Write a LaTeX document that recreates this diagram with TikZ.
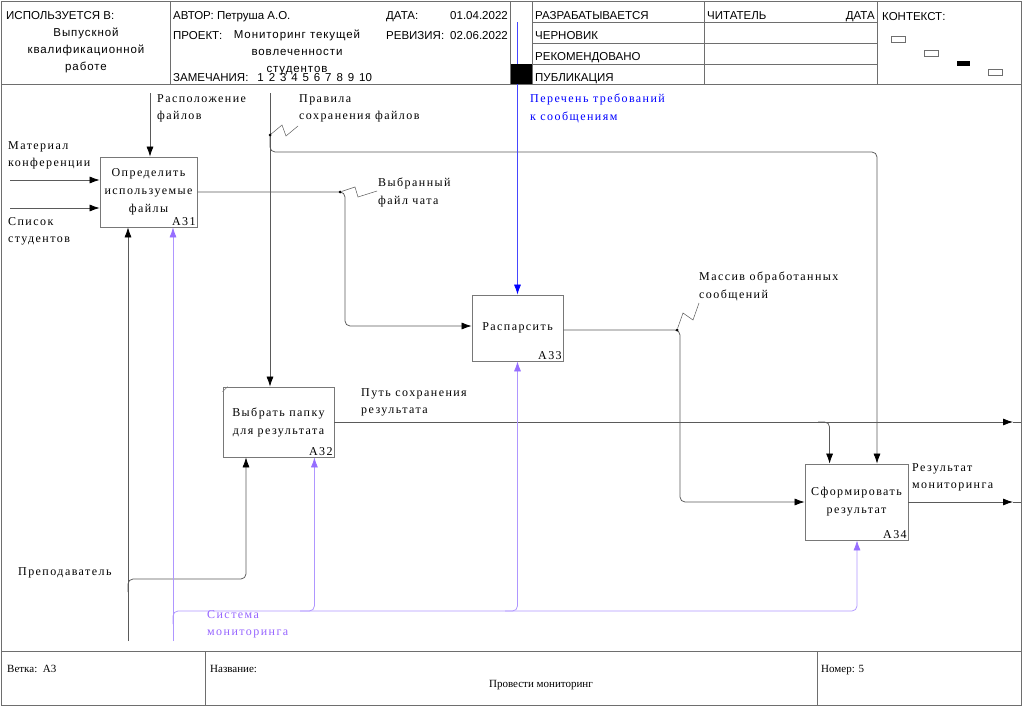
\documentclass[tikz,border=0pt]{standalone}
\usepackage{fontspec}
\setmainfont{Liberation Serif}
\newfontfamily\hdrfont{Liberation Sans}
\newfontfamily\hdrwide{Liberation Sans}[LetterSpace=8]
\newfontfamily\lblfont{Liberation Serif}[LetterSpace=12]
\usetikzlibrary{arrows.meta,calc}
\definecolor{framegray}{RGB}{110,110,110}
\definecolor{linegray}{RGB}{90,90,90}
\definecolor{boxgray}{RGB}{120,120,120}
\definecolor{purpline}{RGB}{175,150,255}
\definecolor{purptip}{RGB}{150,110,255}
\definecolor{purptext}{RGB}{150,100,255}
\definecolor{blueline}{RGB}{70,70,255}
\newcommand{\nsp}{\hspace{4.9pt}}
\begin{document}
\begin{tikzpicture}[x=1pt,y=-1pt,
  frame/.style={draw=framegray, line width=0.8pt},
  hdr/.style={font=\hdrfont\fontsize{11.5}{14}\selectfont, inner sep=0, anchor=base west},
  hdrc/.style={font=\hdrwide\fontsize{11.5}{16.8}\selectfont, inner sep=0, align=center, anchor=north},
  ftr/.style={font=\fontsize{11}{13}\selectfont, inner sep=0, anchor=base west},
  box/.style={draw=boxgray, line width=0.8pt, inner sep=0, align=center,
              font=\lblfont\fontsize{12}{18}\selectfont},
  num/.style={font=\lblfont\fontsize{12}{14}\selectfont, inner sep=1.5pt, anchor=south east},
  lbl/.style={font=\lblfont\fontsize{12}{17.5}\selectfont, inner sep=0, align=left, anchor=north west},
  arr/.style={draw=linegray, line width=0.75pt, -{Latex[length=10pt,width=7pt,color=black]}},
  line/.style={draw=linegray, line width=0.75pt},
  parr/.style={draw=purpline, line width=0.75pt, -{Latex[length=10pt,width=7pt,color=purptip]}},
  barr/.style={draw=blueline, line width=0.75pt, -{Latex[length=10pt,width=7pt,color=blue]}},
  squig/.style={draw=linegray, line width=0.5pt},
  dot/.style={circle, fill=black, inner sep=0, minimum size=3pt},
  rc/.style={rounded corners=5pt}]
\useasboundingbox (0,0) rectangle (1023,707);

% ---------- frame and header grid ----------
\draw[frame] (1,1) rectangle (1021,705);
\draw[frame] (1,84) -- (1021,84);
\foreach \x in {170,510,532,704,877} \draw[frame] (\x,1) -- (\x,84);
\foreach \y in {22,43,64} \draw[frame] (532,\y) -- (877,\y);
\draw[frame] (510,64) -- (532,64);

% ---------- header text ----------
\node[hdr] (usedin) at (6,19.5) {ИСПОЛЬЗУЕТСЯ В:};
\node[hdrc] (usedwhere) at (86,28) {Выпускной\\квалификационной\\работе};
\node[hdr] (author) at (173,19.5) {АВТОР: Петруша А.О.};
\node[hdr] (datel) at (386,19.5) {ДАТА:};
\node[hdr, anchor=base east] (datev) at (508,19.5) {01.04.2022};
\node[hdr] (proj) at (173,39.5) {ПРОЕКТ:};
\node[hdrc] (projname) at (297,30) {Мониторинг текущей\\вовлеченности\\студентов};
\node[hdr] (revl) at (386,39.5) {РЕВИЗИЯ:};
\node[hdr, anchor=base east] (revv) at (508,39.5) {02.06.2022};
\node[hdr] (notes) at (173,81.5) {ЗАМЕЧАНИЯ:\hspace{9pt}1\nsp 2\nsp 3\nsp 4\nsp 5\nsp 6\nsp 7\nsp 8\nsp 9\nsp 10};
\node[hdr] (st1) at (535,19.5) {РАЗРАБАТЫВАЕТСЯ};
\node[hdr] (st2) at (535,39.5) {ЧЕРНОВИК};
\node[hdr] (st3) at (535,60.5) {РЕКОМЕНДОВАНО};
\node[hdr] (st4) at (535,81.5) {ПУБЛИКАЦИЯ};
\node[hdr] (reader) at (707,19.5) {ЧИТАТЕЛЬ};
\node[hdr, anchor=base east] (rdate) at (875,19.5) {ДАТА};
\node[hdr] (ctx) at (882,20.5) {КОНТЕКСТ:};
\draw[framegray, line width=0.6pt] (891,36) rectangle (905,42);
\draw[framegray, line width=0.6pt] (924,50) rectangle (938,56);
\fill[black] (957,61) rectangle (970,66);
\draw[framegray, line width=0.6pt] (988,69) rectangle (1002,75);

% ---------- footer ----------
\draw[frame] (1,651) -- (1021,651);
\draw[frame] (205,651) -- (205,705);
\draw[frame] (817,651) -- (817,705);
\node[ftr] (branch) at (7,672) {Ветка:\ \ А3};
\node[ftr] (title) at (210,672) {Название:};
\node[ftr, anchor=base] (titletext) at (541,687) {Провести мониторинг};
\node[ftr] (number) at (821,672) {Номер: 5};

% ---------- activity boxes ----------
\node[box, minimum width=97pt, minimum height=70pt] (A31) at (148.5,192) {Определить\\используемые\\файлы};
\node[num] (n31) at (A31.south east) {А31};
\node[box, minimum width=111pt, minimum height=70pt] (A32) at (278.5,422) {Выбрать папку\\для результата};
\node[num] (n32) at (A32.south east) {А32};
\draw[boxgray, line width=0.5pt] ($(A32.north west)+(0,5)$) -- ($(A32.north west)+(5,0)$);
\node[box, minimum width=91pt, minimum height=66pt] (A33) at (517.5,328) {Распарсить};
\node[num] (n33) at (A33.south east) {А33};
\node[box, minimum width=103pt, minimum height=76pt] (A34) at (856.5,502) {Сформировать\\результат};
\node[num] (n34) at (A34.south east) {А34};

% ---------- inputs ----------
\coordinate (mat) at (10,180);
\draw[arr] (mat) -- (mat -| A31.west);
\node[lbl] (matl) at (8,141) {Материал\\конференции};
\coordinate (stud) at (10,208);
\draw[arr] (stud) -- (stud -| A31.west);
\node[lbl] (studl) at (8,217) {Список\\студентов};

% ---------- controls ----------
\coordinate (loc) at (150,93);
\draw[arr] (loc) -- (loc |- A31.north);
\node[lbl] (locl) at (157,94) {Расположение\\файлов};

\coordinate (rul) at (270,93);
\draw[arr] (rul) -- (rul |- A32.north);
\coordinate (rulj) at (270,135);
\coordinate (rulc) at (877,152);
\draw[arr, rc] (rulj) |- (rulc) -- (rulc |- A34.north);
\node[dot] (ruld) at (rulj) {};
\node[lbl] (rull) at (299,94) {Правила\\сохранения файлов};
\draw[squig] (ruld) -- ++(12,-10) -- ++(4,11) -- ++(12,-10);

\coordinate (req) at (517.5,22);
\draw[barr] (req) -- (A33.north);
\node[lbl, text=blue] (reql) at (530,94) {Перечень требований\\к сообщениям};
% status marker drawn over the control line
\fill[black] (511,64) rectangle (532,84);

% ---------- A31 -> A33 ----------
\coordinate (chat) at (345,192);
\coordinate (chatb) at (345,326);
\draw[arr, rc] (A31.east |- chat) -- (chat) -- (chatb) -- (chatb -| A33.west);
\node[dot] (chatd) at (340,192) {};
\node[lbl] (chatl) at (378,178) {Выбранный\\файл чата};
\draw[squig] (chatd) -- ++(15,-5) -- ++(3,10) -- ++(19,-6);

% ---------- A33 -> A34 ----------
\coordinate (arr33) at (680,330);
\draw[arr, rc] (arr33 -| A33.east) -- (arr33) -- (arr33 |- A34.west) -- (A34.west);
\node[dot] (arrd) at (677,330) {};
\node[lbl] (arrl) at (699,272) {Массив обработанных\\сообщений};
\draw[squig] (arrd) -- ++(6,-17) -- ++(10,7) -- ++(6,-17);

% ---------- A32 outputs ----------
\coordinate (path) at (1013,422);
\draw[arr] (A32.east) -- (path);
\coordinate (pathr) at (1021,422);
\draw[line] (path) -- (pathr);
\coordinate (pathb) at (818,422);
\draw[arr, rc] (pathb) -| ($(A34.north west)+(25,0)$);
\node[lbl] (pathl) at (361,388) {Путь сохранения\\результата};

% ---------- A34 output ----------
\coordinate (res) at (1013,502);
\draw[arr] (A34.east) -- (res);
\coordinate (resr) at (1021,502);
\draw[line] (res) -- (resr);
\node[lbl] (resl) at (912,463) {Результат\\мониторинга};

% ---------- mechanisms ----------
\coordinate (teach) at (128,641);
\draw[arr] (teach) -- (teach |- A31.south);
\coordinate (teachj) at (128,592);
\coordinate (teachc) at (246,579);
\draw[arr, rc] (teachj) |- (teachc) -- (teachc |- A32.south);
\node[lbl] (teachl) at (18,567) {Преподаватель};

\coordinate (sys) at (173,641);
\draw[parr] (sys) -- (sys |- A31.south);
\coordinate (sysj) at (173,624);
\coordinate (sysc) at (857,611);
\draw[parr, rc] (sysj) |- (sysc) -- (sysc |- A34.south);
\coordinate (sysb1) at (300,611);
\draw[parr, rc] (sysb1) -| ($(A32.south east)+(-20,0)$);
\coordinate (sysb2) at (505,611);
\draw[parr, rc] (sysb2) -| (A33.south);
\node[lbl, text=purptext] (sysl) at (207,610) {Система\\мониторинга};
\end{tikzpicture}
\end{document}
